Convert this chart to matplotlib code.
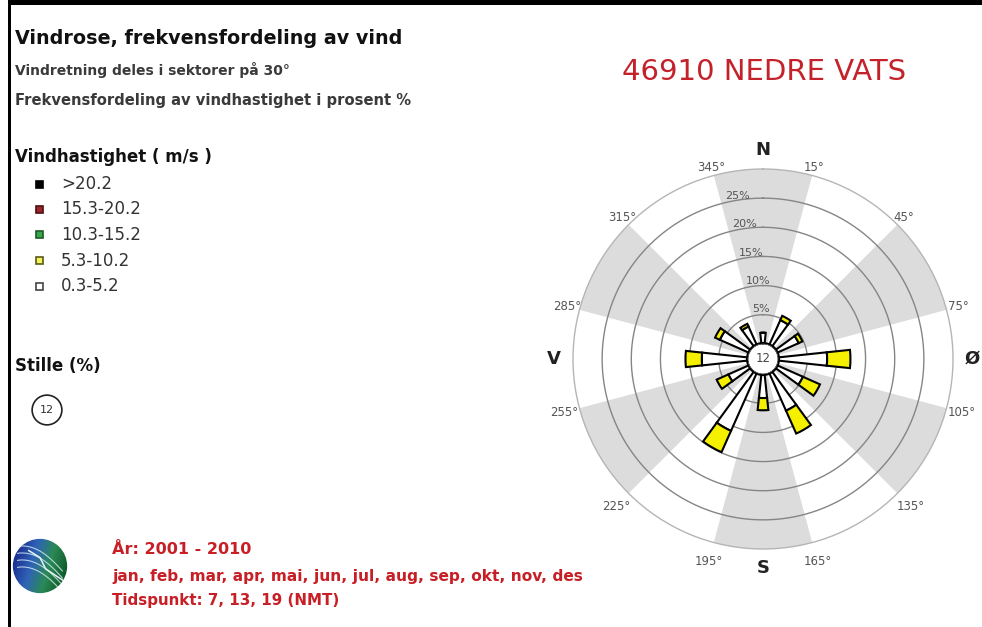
import numpy as np
import matplotlib
matplotlib.use("Agg")
import matplotlib.pyplot as plt
from matplotlib.patches import Circle, Rectangle
from matplotlib.colors import LinearSegmentedColormap

# ---------------- data ----------------
directions = [0, 30, 60, 90, 120, 150, 180, 210, 240, 270, 300, 330]
speed_low = [1.9, 4.7, 4.1, 8.4, 4.9, 7.1, 4.1, 10.9, 3.9, 7.9, 5.5, 3.5]   # 0.3-5.2 m/s
speed_mid = [0.0, 0.8, 0.7, 4.0, 3.2, 4.3, 2.1, 4.0, 2.2, 2.8, 0.9, 0.5]   # 5.3-10.2 m/s
ring_values = [5, 10, 15, 20, 25]
sector_labels = [15, 45, 75, 105, 135, 165, 195, 225, 255, 285, 315, 345]
compass = {"N": 0, "Ø": 90, "S": 180, "V": 270}
legend_labels = [">20.2", "15.3-20.2", "10.3-15.2", "5.3-10.2", "0.3-5.2"]
legend_colors = ["#000000", "#a3232b", "#3aa64a", "#f2f25a", "#ffffff"]
legend_edges = ["#000000", "#4a1010", "#1c5a26", "#5a5a1a", "#444444"]
calm_pct = 12
station = "46910 NEDRE VATS"

W, H = 982, 627
fig = plt.figure(figsize=(W / 100, H / 100), dpi=100)
fig.patch.set_facecolor("white")

def fx(px):
    return px / W

def fy(py):
    return 1 - py / H

# frame lines
fig.add_artist(Rectangle((fx(8), 0), fx(3), 1, transform=fig.transFigure, color="black", lw=0))
fig.add_artist(Rectangle((fx(8), fy(5)), 1, 5 / H, transform=fig.transFigure, color="black", lw=0))

# ---------------- polar rose ----------------
cx, cy, R = 763, 359, 190
rmax = 30.0
rorig = 2.6
ax = fig.add_axes([fx(cx - R), fy(cy + R), 2 * R / W, 2 * R / H], projection="polar")
ax.set_theta_zero_location("N")
ax.set_theta_direction(-1)
ax.set_ylim(0, rmax)
ax.set_rorigin(-rorig)
ax.set_facecolor("white")
ax.grid(False)
ax.set_xticks([])
ax.set_yticks([])
ax.spines["polar"].set_color("#b5b5b5")
ax.spines["polar"].set_linewidth(1.0)

def px_to_r(p):
    return p / R * (rmax + rorig) - rorig

# grey sectors
for d in range(0, 360, 60):
    ax.bar(np.deg2rad(d), rmax, width=np.deg2rad(30), bottom=0, color="#dcdcdc", lw=0, zorder=1)

th = np.linspace(0, 2 * np.pi, 400)
for rv in ring_values:
    ax.plot(th, np.full_like(th, rv), color="#858585", lw=1.0, zorder=2)

for rv in ring_values:
    ax.text(np.deg2rad(-13.5), rv + 0.3, f"{rv}%", fontsize=8, color="#555555",
            ha="left", va="bottom", zorder=3)

# wind bars
theta = np.deg2rad(directions)
wid = np.deg2rad(12)
ax.bar(theta, speed_low, width=wid, bottom=0, color="white", edgecolor="black", lw=1.5, zorder=5)
ax.bar(theta, speed_mid, width=wid, bottom=speed_low, color="#f5f000", edgecolor="black", lw=1.5, zorder=5)

# sector degree labels
for s in sector_labels:
    rp = 204 - 6 * np.cos(np.deg2rad(s))
    ax.text(np.deg2rad(s), px_to_r(rp), f"{s}°", fontsize=8.5, color="#555555",
            ha="center", va="center", clip_on=False)

for k, a in compass.items():
    ax.text(np.deg2rad(a), px_to_r(209), k, fontsize=13, fontweight="bold", color="#222222",
            ha="center", va="center", clip_on=False)

# calm circle in middle
ax.add_artist(Circle((0.5, 0.5), 16 / (2 * R), transform=ax.transAxes, facecolor="white",
                     edgecolor="black", lw=1.5, zorder=6))
ax.text(0.5, 0.5, str(calm_pct), transform=ax.transAxes, ha="center", va="center",
        fontsize=8.5, color="#444444", zorder=7)

# ---------------- texts ----------------
fig.text(fx(15), fy(38), "Vindrose, frekvensfordeling av vind", fontsize=13.8, fontweight="bold",
         color="#111111", va="center", ha="left")
fig.text(fx(15), fy(70), "Vindretning deles i sektorer på 30°", fontsize=10, fontweight="bold",
         color="#3a3a3a", va="center", ha="left")
fig.text(fx(15), fy(100), "Frekvensfordeling av vindhastighet i prosent %", fontsize=10.6,
         fontweight="bold", color="#3a3a3a", va="center", ha="left")
fig.text(fx(764), fy(72), station, fontsize=21, color="#c4212a", va="center", ha="center")

fig.text(fx(15), fy(157), "Vindhastighet ( m/s )", fontsize=12, fontweight="bold",
         color="#111111", va="center", ha="left")
for i, (lab, fc, ec) in enumerate(zip(legend_labels, legend_colors, legend_edges)):
    y = 184 + i * 25.5
    fig.add_artist(Rectangle((fx(36), fy(y + 3.5)), 7 / W, 7 / H, transform=fig.transFigure,
                             facecolor=fc, edgecolor=ec, lw=1.2))
    fig.text(fx(61), fy(y), lab, fontsize=12, color="#333333", va="center", ha="left")

fig.text(fx(15), fy(366), "Stille (%)", fontsize=12, fontweight="bold", color="#111111",
         va="center", ha="left")
cax = fig.add_axes([fx(31), fy(426), 32 / W, 32 / H])
cax.set_xlim(-1, 1)
cax.set_ylim(-1, 1)
cax.axis("off")
cax.add_patch(Circle((0, 0), 0.93, facecolor="white", edgecolor="#222222", lw=1.2))
cax.text(0, 0, str(calm_pct), ha="center", va="center", fontsize=8, color="#333333")

# logo
lax = fig.add_axes([fx(12), fy(594), 56 / W, 56 / H])
lax.set_xlim(-1, 1)
lax.set_ylim(-1, 1)
lax.axis("off")
gx, gy = np.meshgrid(np.linspace(-1, 1, 120), np.linspace(-1, 1, 120))
grad = np.clip((gx - gy * 0.3 + 1) / 2, 0, 1)
cmap = LinearSegmentedColormap.from_list("logo", ["#1b2f8f", "#2f63b8", "#2a8a55", "#0f5a2a"])
im = lax.imshow(grad, extent=(-1, 1, -1, 1), cmap=cmap, origin="lower")
clipc = Circle((0, 0), 0.97, transform=lax.transData, facecolor="none", edgecolor="none")
lax.add_patch(clipc)
im.set_clip_path(clipc)
for k in range(4):
    t = np.linspace(0, 1, 50)
    xs = -0.8 + 1.6 * t
    ys = 0.7 - 0.25 * k - 0.9 * t ** 1.5 + 0.15 * np.sin(3 * t)
    ln, = lax.plot(xs, ys, color="#d8eef5", lw=0.8, alpha=0.8)
    ln.set_clip_path(clipc)
sw, = lax.plot([-0.4, 0.0, 0.2, 0.95], [0.55, 0.3, -0.1, -0.6], color="#e8f4f8", lw=1.1)
sw.set_clip_path(clipc)

red = "#c81e25"
fig.text(fx(112), fy(550), "År: 2001 - 2010", fontsize=11.5, fontweight="bold", color=red,
         va="center", ha="left")
fig.text(fx(112), fy(577), "jan, feb, mar, apr, mai, jun, jul, aug, sep, okt, nov, des",
         fontsize=11.1, fontweight="bold", color=red, va="center", ha="left")
fig.text(fx(112), fy(601), "Tidspunkt: 7, 13, 19 (NMT)", fontsize=10.9, fontweight="bold",
         color=red, va="center", ha="left")

fig.savefig("out.png", dpi=100, facecolor="white")
